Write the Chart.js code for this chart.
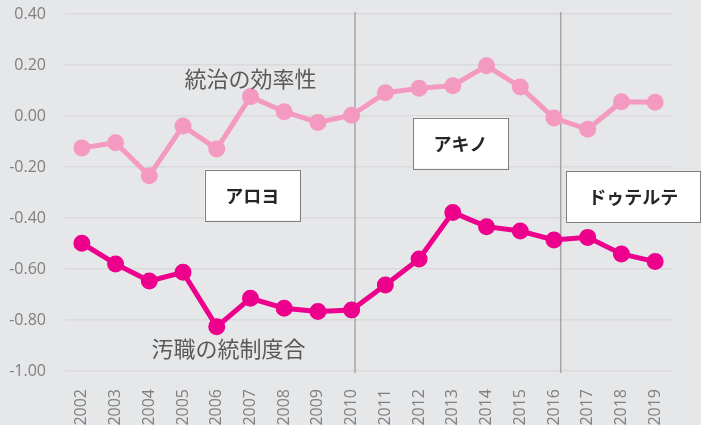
<!DOCTYPE html>
<html>
<head>
<meta charset="utf-8">
<script src="https://cdn.jsdelivr.net/npm/chart.js@4/dist/chart.umd.min.js"></script>
<style>
  html, body { margin: 0; padding: 0; background: #e6e7e9; }
  #wrap { width: 701px; height: 425px; }
</style>
</head>
<body>
<div id="wrap"><canvas id="chart" width="701" height="425"></canvas></div>
<script>
const years = ['2002','2003','2004','2005','2006','2007','2008','2009','2010',
  '2011','2012','2013','2014','2015','2016','2017','2018','2019'];

// 統治の効率性
const kouritsu = [-0.125, -0.105, -0.234, -0.039, -0.129, 0.076, 0.017, -0.025, 0.003,
  0.091, 0.109, 0.119, 0.197, 0.114, -0.008, -0.052, 0.056, 0.054];

// 汚職の統制度合
const oshoku = [-0.499, -0.580, -0.647, -0.613, -0.826, -0.715, -0.754, -0.767, -0.761,
  -0.663, -0.561, -0.378, -0.434, -0.451, -0.486, -0.476, -0.541, -0.571];

// 政権の切り替わり（カテゴリ位置）
const dividers = [8.1, 14.2];

// 大統領名（中心のカテゴリ位置と値）
const presidents = [
  { name: 'アロヨ', x: 5.05, y: -0.31, w: 95 },
  { name: 'アキノ', x: 11.23, y: -0.106, w: 95 },
  { name: 'ドゥテルテ', x: 16.35, y: -0.316, w: 134 }
];

// 系列名のラベル
const seriesLabels = [
  { text: '統治の効率性', x: 5.0, y: 0.148 },
  { text: '汚職の統制度合', x: 4.35, y: -0.914 }
];

const FONT = '"Noto Sans CJK JP", "Noto Sans", sans-serif';
const TICK_FONT = '"Open Sans", "Noto Sans", sans-serif';

const decor = {
  id: 'decor',
  beforeDatasetsDraw(chart) {
    const ctx = chart.ctx;
    const xs = chart.scales.x, ys = chart.scales.y;
    ctx.save();
    ctx.strokeStyle = '#a6a6a6';
    ctx.lineWidth = 1.5;
    dividers.forEach(function(d) {
      const px = xs.getPixelForValue(d);
      ctx.beginPath();
      ctx.moveTo(px, ys.top - 2);
      ctx.lineTo(px, ys.bottom + 2);
      ctx.stroke();
    });
    ctx.restore();
  },
  afterDatasetsDraw(chart) {
    const ctx = chart.ctx;
    const xs = chart.scales.x, ys = chart.scales.y;
    ctx.save();
    ctx.textAlign = 'center';
    ctx.textBaseline = 'middle';
    presidents.forEach(function(p) {
      const cx = xs.getPixelForValue(p.x);
      const cy = ys.getPixelForValue(p.y);
      const h = 51;
      ctx.fillStyle = '#ffffff';
      ctx.fillRect(cx - p.w / 2, cy - h / 2, p.w, h);
      ctx.strokeStyle = '#7f7f7f';
      ctx.lineWidth = 1;
      ctx.strokeRect(Math.round(cx - p.w / 2) + 0.5, Math.round(cy - h / 2) + 0.5, p.w, h);
      ctx.fillStyle = '#262626';
      ctx.font = 'bold 18px ' + FONT;
      ctx.fillText(p.name, cx, cy + 1);
    });
    ctx.fillStyle = '#595959';
    ctx.font = '22px ' + FONT;
    seriesLabels.forEach(function(l) {
      ctx.fillText(l.text, xs.getPixelForValue(l.x), ys.getPixelForValue(l.y));
    });
    ctx.restore();
  }
};

new Chart(document.getElementById('chart'), {
  type: 'line',
  data: {
    labels: years,
    datasets: [
      {
        label: '統治の効率性',
        data: kouritsu,
        borderColor: '#f49ac1',
        backgroundColor: '#f49ac1',
        borderWidth: 5,
        pointRadius: 6,
        pointHoverRadius: 6,
        tension: 0
      },
      {
        label: '汚職の統制度合',
        data: oshoku,
        borderColor: '#ec008c',
        backgroundColor: '#ec008c',
        borderWidth: 5,
        pointRadius: 6,
        pointHoverRadius: 6,
        tension: 0
      }
    ]
  },
  options: {
    responsive: false,
    animation: false,
    layout: { padding: { top: 14, right: 29, left: 0, bottom: 0 } },
    plugins: { legend: { display: false }, tooltip: { enabled: false } },
    scales: {
      x: {
        offset: true,
        grid: { display: false },
        border: { display: false },
        ticks: {
          color: '#7f7f7f',
          font: { family: TICK_FONT, size: 16 },
          minRotation: 90,
          maxRotation: 90,
          padding: 10
        },
        afterFit(s) {
          s.height = 54;
          s.paddingLeft = 0; s.paddingRight = 0;
          s.paddingTop = 0; s.paddingBottom = 0;
        }
      },
      y: {
        min: -1.0,
        max: 0.4,
        grid: { color: '#d9dadc', lineWidth: 1.5, drawTicks: false },
        border: { display: false },
        ticks: {
          stepSize: 0.2,
          color: '#7f7f7f',
          font: { family: TICK_FONT, size: 16 },
          padding: 19,
          callback: function(v) { return (Math.abs(v) < 1e-9 ? 0 : v).toFixed(2); }
        },
        afterFit(s) {
          s.width = 65;
          s.paddingTop = 0; s.paddingBottom = 0;
        }
      }
    }
  },
  plugins: [decor]
});
</script>
</body>
</html>
